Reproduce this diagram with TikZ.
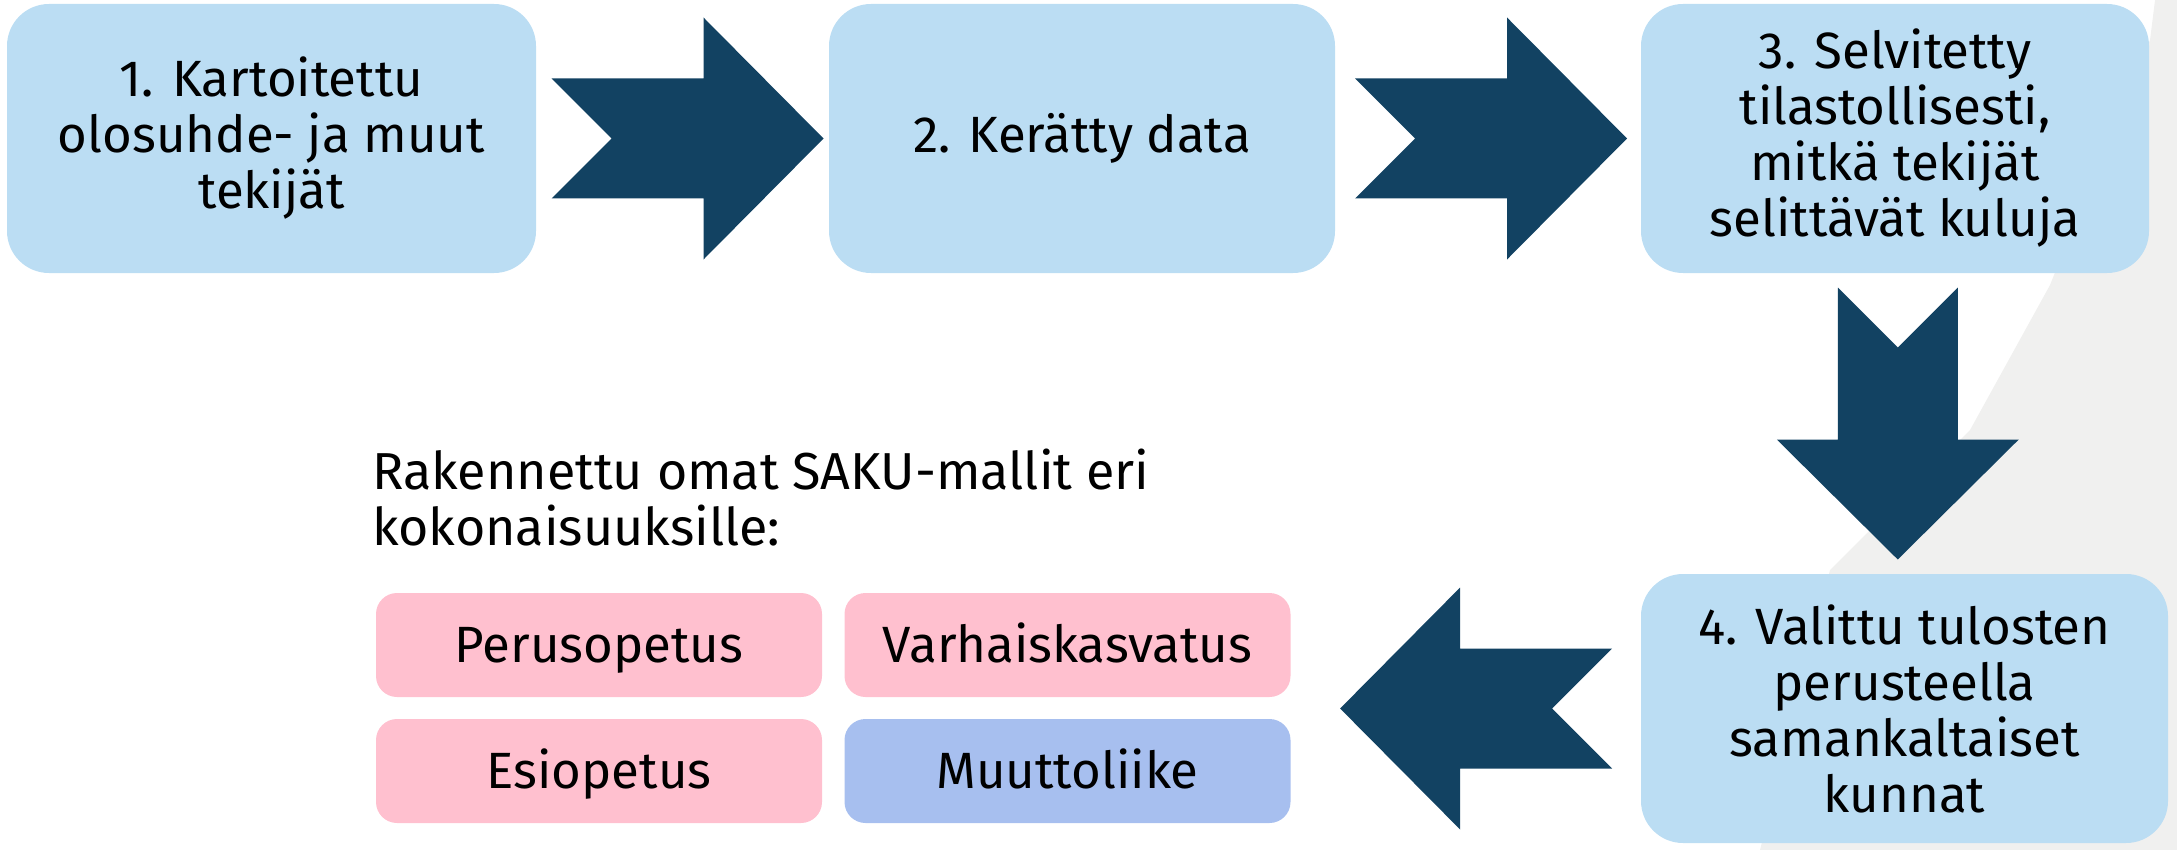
\documentclass[tikz,border=0pt]{standalone}
\usepackage{fontspec}
\setmainfont{Fira Sans}
\usetikzlibrary{calc}

\definecolor{boxblue}{HTML}{BBDDF3}
\definecolor{arrowblue}{HTML}{124262}
\definecolor{pinkbox}{HTML}{FFC0CF}
\definecolor{lavbox}{HTML}{A7BFEF}
\definecolor{bggrey}{HTML}{F0F0EF}

\tikzset{
  stepbox/.style={fill=boxblue, rounded corners=21pt, minimum width=#1, minimum height=134.5pt,
    align=center, inner sep=0pt, font=\fontsize{25.5}{28}\selectfont},
  modelbox/.style={fill=#1, rounded corners=10.5pt, minimum width=223pt, minimum height=52pt,
    inner sep=0pt, text height=22.6pt, text depth=5pt, font=\fontsize{25.5}{28}\selectfont}
}

% ---- notched block arrow: #1 centre, #2 angle
\newcommand{\blockarrow}[2]{%
  \fill[arrowblue, shift={(#1)}, rotate=#2]
    (-136,-60) -- (16,-60) -- (16,-121) -- (136,0) -- (16,121) -- (16,60)
    -- (-136,60) -- (-76,0) -- cycle;}

\begin{document}
\begin{tikzpicture}[x=0.5pt, y=-0.5pt]
\useasboundingbox (0,0) rectangle (2177,850);

% --- grey background at the right edge
\fill[bggrey] (2177,0) -- (2155,0) -- (2150,40) -- (2100,160) -- (2050,285)
  -- (1970,430) -- (1880,520) -- (1830,570) -- (1760,850) -- (2177,850) -- cycle;

% --- the four steps
\node[stepbox=264.5pt] (kartoitus) at (271.5,138.5) {1. Kartoitettu\\olosuhde- ja muut\\tekijät};
\node[stepbox=253pt] (data) at (1082,138.5) {2. Kerätty data};
\node[stepbox=254pt] (selvitys) at (1895,138.5) {3. Selvitetty\\tilastollisesti,\\mitkä tekijät\\selittävät kuluja};
\node[stepbox=263.5pt] (valinta) at (1904.5,708.5) {4. Valittu tulosten\\perusteella\\samankaltaiset\\kunnat};

% ---- SAKU models
\node[anchor=west, align=left, inner sep=0pt, font=\fontsize{26}{28}\selectfont]
  (otsikko) at (372,498) {Rakennettu omat SAKU-mallit eri\\kokonaisuuksille:};
\node[modelbox=pinkbox] (perus) at (599,645) {Perusopetus};
\node[modelbox=pinkbox] (varhais) at (1067.5,645) {Varhaiskasvatus};
\node[modelbox=pinkbox] (esi) at (599,771) {Esiopetus};
\node[modelbox=lavbox] (muutto) at (1067.5,771) {Muuttoliike};

% --- arrows between the boxes
\coordinate (a12) at ($(kartoitus.east)!0.5!(data.west)+(5,0)$);
\coordinate (a23) at ($(data.east)!0.5!(selvitys.west)+(3,0)$);
\coordinate (a34) at ($(selvitys.south)!0.5!(valinta.north)+(-2,0)$);
\coordinate (a4m) at ($(valinta.west)+(-164.5,0)$);
\blockarrow{a12}{0}
\blockarrow{a23}{0}
\blockarrow{a34}{-90}
\blockarrow{a4m}{180}
\end{tikzpicture}
\end{document}
